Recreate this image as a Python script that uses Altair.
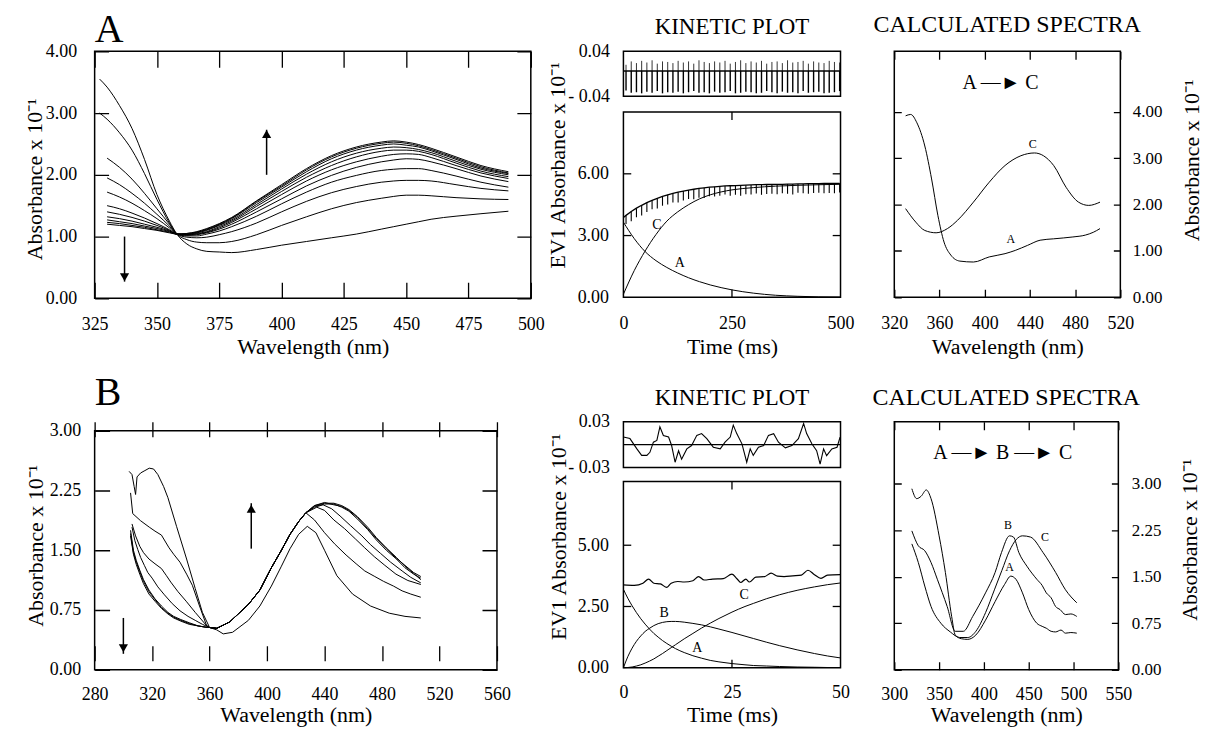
import altair as alt
import pandas as pd

FONT = "Liberation Serif"
ABS = "Absorbance x 10\u207b\u00b9"
EV1 = "EV1 Absorbance x 10\u207b\u00b9"
LABEL_EXPR = "datum.value < 0 ? '- ' + format(-datum.value, '.2f') : format(datum.value, '.2f')"

# ---------------- Panel A : observed spectra ----------------
A_obs_wl = [327, 330, 335, 340, 345, 350, 355, 358, 362, 366, 370, 375, 380,
            390, 400, 410, 420, 430, 440, 445, 450, 455, 460, 470, 480, 491]
A_obs_1 = [3.55, 3.42, 3.12, 2.75, 2.25, 1.68, 1.25, 1.04, 0.88, 0.80, 0.76, 0.75, 0.74,
           0.79, 0.86, 0.92, 0.98, 1.04, 1.12, 1.16, 1.20, 1.24, 1.28, 1.33, 1.37, 1.41]
A_obs_2 = [3.00, 2.90, 2.68, 2.40, 2.02, 1.60, 1.22, 1.04, 0.95, 0.91, 0.90, 0.90, 0.92,
           1.03, 1.18, 1.32, 1.45, 1.55, 1.62, 1.65, 1.67, 1.67, 1.66, 1.63, 1.61, 1.60]
A_obs_3 = [None, 2.27, 2.12, 1.93, 1.70, 1.45, 1.20, 1.04, 0.99, 0.98, 0.99, 1.03, 1.08,
           1.22, 1.40, 1.57, 1.71, 1.81, 1.88, 1.90, 1.91, 1.91, 1.90, 1.84, 1.78, 1.74]
A_obs_4 = [None, 1.95, 1.84, 1.70, 1.54, 1.36, 1.17, 1.04, 1.01, 1.01, 1.04, 1.09, 1.16,
           1.33, 1.53, 1.72, 1.88, 1.99, 2.07, 2.09, 2.10, 2.10, 2.07, 1.98, 1.88, 1.80]
A_obs_5 = [None, 1.72, 1.64, 1.54, 1.42, 1.29, 1.14, 1.04, 1.02, 1.03, 1.06, 1.12, 1.20,
           1.40, 1.61, 1.82, 1.99, 2.12, 2.21, 2.24, 2.26, 2.25, 2.21, 2.10, 1.98, 1.89]
A_obs_6 = [None, 1.50, 1.45, 1.38, 1.30, 1.21, 1.11, 1.04, 1.03, 1.04, 1.07, 1.14, 1.23,
           1.45, 1.68, 1.90, 2.08, 2.21, 2.30, 2.33, 2.34, 2.33, 2.28, 2.15, 2.03, 1.94]
A_obs_7 = [None, 1.40, 1.36, 1.31, 1.25, 1.18, 1.10, 1.04, 1.03, 1.05, 1.08, 1.16, 1.25,
           1.49, 1.73, 1.96, 2.15, 2.29, 2.38, 2.40, 2.40, 2.38, 2.33, 2.19, 2.06, 1.97]
A_obs_8 = [None, 1.32, 1.29, 1.25, 1.20, 1.15, 1.09, 1.04, 1.04, 1.06, 1.10, 1.18, 1.27,
           1.52, 1.77, 2.01, 2.21, 2.35, 2.43, 2.45, 2.44, 2.41, 2.36, 2.22, 2.09, 2.00]
A_obs_9 = [None, 1.27, 1.24, 1.21, 1.17, 1.13, 1.08, 1.04, 1.04, 1.07, 1.11, 1.19, 1.29,
           1.55, 1.80, 2.05, 2.26, 2.40, 2.48, 2.50, 2.48, 2.45, 2.39, 2.25, 2.11, 2.02]
A_obs_10 = [None, 1.23, 1.21, 1.18, 1.15, 1.11, 1.07, 1.04, 1.05, 1.07, 1.12, 1.20, 1.30,
            1.57, 1.82, 2.08, 2.29, 2.43, 2.51, 2.53, 2.51, 2.47, 2.41, 2.27, 2.13, 2.03]
A_obs_11 = [None, 1.20, 1.18, 1.16, 1.13, 1.10, 1.06, 1.04, 1.05, 1.08, 1.13, 1.21, 1.31,
            1.58, 1.84, 2.10, 2.31, 2.45, 2.53, 2.55, 2.53, 2.49, 2.43, 2.29, 2.15, 2.05]
A_arrow_x = [394, 337]
A_arrow_from = [2.00, 1.00]
A_arrow_to = [2.73, 0.27]
A_arrow_head = [2.66, 0.34]
ARROW_SHAPES = ["triangle-up", "triangle-down"]

# ---------------- Panel A : kinetic plot ----------------
A_kin_t = [0, 6, 18, 30, 42, 54, 66, 78, 90, 102, 114, 126, 138, 150, 162, 174, 186, 198,
           210, 222, 234, 246, 258, 270, 282, 294, 306, 318, 330, 342, 354, 366, 378, 390,
           402, 414, 426, 438, 450, 462, 474, 486, 498]
A_kin_obs = [3.88, 3.98, 4.17, 4.33, 4.47, 4.60, 4.71, 4.81, 4.90, 4.98, 5.05, 5.11, 5.16,
             5.21, 5.25, 5.29, 5.32, 5.35, 5.37, 5.39, 5.41, 5.42, 5.43, 5.44, 5.45, 5.46,
             5.47, 5.47, 5.48, 5.48, 5.49, 5.49, 5.50, 5.50, 5.51, 5.51, 5.52, 5.52, 5.52,
             5.53, 5.53, 5.53, 5.54]
A_kin_tooth = [0.42, 0.48, 0.44, 0.50, 0.46, 0.43, 0.49, 0.45, 0.47, 0.44, 0.50, 0.46, 0.43,
               0.48, 0.45, 0.49, 0.44, 0.47, 0.46, 0.42, 0.48, 0.45, 0.50, 0.44, 0.47, 0.43,
               0.49, 0.46, 0.45, 0.48, 0.44, 0.47, 0.50, 0.43, 0.46, 0.49, 0.45, 0.44, 0.48,
               0.46, 0.47, 0.45]
A_res_base = 0.005
A_res_low = [-0.030, -0.034, -0.033, -0.035, -0.032, -0.034, -0.031, -0.035, -0.033, -0.034,
             -0.032, -0.035, -0.033, -0.031, -0.034, -0.033, -0.035, -0.032, -0.034, -0.033,
             -0.031, -0.035, -0.034, -0.032, -0.033, -0.035, -0.034, -0.031, -0.033, -0.035,
             -0.032, -0.034, -0.033, -0.035, -0.031, -0.034, -0.033, -0.032, -0.035, -0.034,
             -0.033, -0.031]
A_res_high = [0.016, 0.022, 0.019, 0.023, 0.020, 0.024, 0.018, 0.022, 0.021, 0.019,
              0.023, 0.020, 0.022, 0.018, 0.024, 0.021, 0.019, 0.022, 0.020, 0.023,
              0.018, 0.021, 0.024, 0.019, 0.022, 0.020, 0.023, 0.018, 0.021, 0.022,
              0.019, 0.024, 0.020, 0.021, 0.023, 0.018, 0.022, 0.020, 0.019, 0.023,
              0.021, 0.020]
A_fit_t = [0, 25, 50, 75, 100, 125, 150, 175, 200, 225, 250, 300, 350, 400, 450, 500]
A_fit_A = [3.65, 2.85, 2.22, 1.78, 1.45, 1.18, 0.95, 0.76, 0.60, 0.47, 0.36, 0.20, 0.10, 0.05, 0.02, 0.01]
A_fit_C = [0.15, 1.30, 2.25, 3.05, 3.70, 4.15, 4.50, 4.78, 4.98, 5.12, 5.22, 5.33, 5.40, 5.44, 5.47, 5.49]
A_kin_lab_t = [77, 130]
A_kin_lab_v = [3.5, 1.67]
A_kin_lab = ["C", "A"]
A_kin_xticks = [250]
A_kin_yticks = [3, 6]

# ---------------- Panel A : calculated spectra ----------------
CA_A_wl = [330, 334.5, 340, 347, 353, 358.6, 364, 370, 378, 390, 404, 418, 427, 438, 449, 461, 478, 489, 496, 502]
CA_A_v = [3.91, 3.94, 3.76, 3.26, 2.55, 1.76, 1.19, 0.91, 0.78, 0.76, 0.87, 0.94, 1.01, 1.12, 1.23, 1.26, 1.30, 1.34, 1.40, 1.48]
CA_C_wl = [330, 339, 347, 357, 367, 376, 390, 404, 418, 432, 444, 452, 461, 472, 483, 492, 502]
CA_C_v = [1.91, 1.62, 1.44, 1.39, 1.48, 1.66, 2.05, 2.48, 2.84, 3.05, 3.11, 3.05, 2.84, 2.37, 2.05, 1.98, 2.05]
CA_lab_wl = [442.5, 423]
CA_lab_v = [3.30, 1.25]
CA_lab = ["C", "A"]
CA_scheme = "A \u2014\u25ba C"

# ---------------- Panel B : observed spectra ----------------
B1_wl = [304, 306, 307.5, 308.5, 309.5, 312, 315, 318, 321, 324, 328, 331, 337, 344, 350, 355,
         360, 365, 369.5, 376, 387, 395, 403, 410, 416, 422, 428, 434, 440, 448.6, 459.5, 472,
         485, 496, 507]
B1_v = [2.49, 2.45, 2.30, 2.20, 2.42, 2.47, 2.50, 2.53, 2.52, 2.45, 2.30, 2.16, 1.80, 1.39, 1.02,
        0.72, 0.53, 0.50, 0.45, 0.47, 0.62, 0.80, 1.05, 1.30, 1.52, 1.70, 1.80, 1.72, 1.50, 1.18,
        0.95, 0.80, 0.71, 0.67, 0.65]
B_rise_wl = [360, 365, 374, 387, 395, 403, 410, 416, 422, 427]
B_rise_v = [0.53, 0.52, 0.60, 0.82, 1.00, 1.28, 1.50, 1.70, 1.86, 1.97]
B2_left_wl = [305, 306.5, 312, 318, 322, 326.5, 331.8, 335, 339.4, 344, 348, 353, 358]
B2_left_v = [2.22, 1.96, 1.87, 1.79, 1.74, 1.69, 1.53, 1.45, 1.35, 1.20, 1.06, 0.80, 0.55]
B2_right_wl = [433, 440, 447, 455, 462, 468, 475, 481, 488, 494, 500, 507]
B2_right_v = [1.88, 1.72, 1.58, 1.44, 1.33, 1.24, 1.17, 1.11, 1.05, 0.99, 0.95, 0.91]
B3_left_wl = [306, 308.5, 311.4, 314, 317.8, 322, 326.5, 330, 333, 338, 343.7, 350, 357.6]
B3_left_v = [1.83, 1.68, 1.55, 1.47, 1.39, 1.33, 1.27, 1.18, 1.10, 0.98, 0.86, 0.72, 0.56]
B3_right_wl = [434.6, 440, 446.5, 454, 461.6, 468, 474.6, 482, 489.7, 498, 507]
B3_right_v = [2.04, 2.00, 1.88, 1.77, 1.64, 1.53, 1.42, 1.31, 1.20, 1.12, 1.07]
B4_left_wl = [306, 308, 310, 312, 314.6, 317, 320, 324, 328.6, 334, 339.4, 345, 350, 355, 358.7]
B4_left_v = [1.79, 1.62, 1.51, 1.41, 1.31, 1.22, 1.15, 1.04, 0.94, 0.83, 0.74, 0.67, 0.62, 0.57, 0.54]
B4_right_wl = [433, 439, 445, 450.8, 458, 466, 472, 479, 486, 494, 500, 507]
B4_right_v = [2.04, 2.07, 2.02, 1.93, 1.81, 1.68, 1.57, 1.46, 1.35, 1.24, 1.16, 1.09]
B567_left_wl = [305, 307, 309, 311.4, 314, 317.8, 322, 326.5, 331, 335, 340, 345.8, 352, 358.7]
B567_right_wl = [433, 440, 446.5, 452, 457, 463, 470, 476, 483, 490, 496, 502, 507]
B5_left_v = [1.71, 1.47, 1.35, 1.23, 1.11, 0.98, 0.88, 0.78, 0.71, 0.66, 0.62, 0.58, 0.55, 0.53]
B5_right_v = [2.05, 2.08, 2.08, 2.04, 1.99, 1.89, 1.76, 1.63, 1.50, 1.39, 1.28, 1.20, 1.15]
B6_left_v = [1.75, 1.50, 1.37, 1.25, 1.13, 1.00, 0.89, 0.80, 0.72, 0.67, 0.63, 0.59, 0.55, 0.53]
B6_right_v = [2.06, 2.09, 2.09, 2.06, 2.01, 1.92, 1.79, 1.66, 1.53, 1.41, 1.30, 1.21, 1.13]
B7_left_v = [1.68, 1.45, 1.32, 1.20, 1.08, 0.95, 0.86, 0.77, 0.70, 0.65, 0.61, 0.57, 0.55, 0.53]
B7_right_v = [2.06, 2.10, 2.07, 2.05, 2.00, 1.91, 1.77, 1.65, 1.52, 1.40, 1.31, 1.22, 1.17]
B_arrow_x = [389, 300]
B_arrow_from = [1.52, 0.65]
B_arrow_to = [2.09, 0.20]
B_arrow_head = [2.02, 0.27]

# ---------------- Panel B : kinetic plot ----------------
KB_obs_t = [0, 2.5, 4.5, 5.8, 7, 8.5, 10, 11, 12.5, 14, 16, 17.3, 18.6, 20.5, 23, 25, 26.2, 27,
            28.2, 29, 30.5, 32.5, 34, 35.5, 37, 39, 41, 42.5, 44, 45.5, 47, 50]
KB_obs_v = [3.38, 3.36, 3.45, 3.62, 3.45, 3.42, 3.28, 3.45, 3.52, 3.50, 3.55, 3.72, 3.58, 3.62,
            3.64, 3.82, 3.62, 3.48, 3.62, 3.50, 3.70, 3.72, 3.86, 3.74, 3.72, 3.75, 3.78, 3.98,
            3.80, 3.65, 3.78, 3.80]
KB_res_t = [0, 1.5, 3.1, 4.2, 5.4, 6.1, 6.9, 7.7, 8.4, 9.2, 10.4, 11.1, 11.9, 12.7, 13.4, 14.6,
            15.7, 16.9, 18.0, 19.2, 20.7, 22.3, 23.4, 24.6, 25.3, 26.1, 27.3, 28.4, 29.2, 29.9,
            31.1, 32.3, 33.4, 34.6, 35.7, 37.3, 38.8, 40.3, 41.5, 42.2, 43.4, 44.5, 45.3, 46.1,
            46.8, 48.0, 49.2, 49.9]
KB_res_v = [0.010, 0.008, -0.0055, -0.014, -0.014, -0.010, 0.0033, 0.0056, 0.0233, 0.012,
            0.010, -0.0011, -0.023, -0.008, -0.019, -0.0055, -0.0011, 0.0122, 0.0145, 0.0078,
            -0.0033, -0.0055, 0.0033, 0.010, 0.0256, 0.0145, 0.0011, -0.023, -0.0055, -0.014,
            -0.0033, -0.0011, 0.0122, 0.0145, 0.0033, -0.0042, -0.0011, 0.0078, 0.0278, 0.0145,
            0.0011, -0.0078, -0.0255, -0.0055, -0.0144, -0.0055, -0.0033, 0.010]
KB_fit_t = [0, 1, 2, 3, 4, 5, 6, 7, 8, 9, 10, 11, 12, 14, 16, 18, 20, 22, 25, 28, 30, 33, 36, 40, 44, 47, 50]
KB_A = [3.20, 2.84, 2.53, 2.25, 2.00, 1.78, 1.58, 1.40, 1.25, 1.11, 0.99, 0.88, 0.78, 0.62, 0.49,
        0.39, 0.30, 0.24, 0.17, 0.12, 0.09, 0.07, 0.05, 0.03, 0.02, 0.01, 0.01]
KB_B = [0.00, 0.45, 0.80, 1.08, 1.30, 1.48, 1.61, 1.72, 1.80, 1.85, 1.88, 1.89, 1.89, 1.86, 1.81,
        1.75, 1.67, 1.58, 1.44, 1.29, 1.19, 1.04, 0.90, 0.73, 0.58, 0.48, 0.40]
KB_C = [0.00, 0.01, 0.03, 0.07, 0.12, 0.19, 0.27, 0.36, 0.47, 0.58, 0.70, 0.82, 0.94, 1.18, 1.40,
        1.62, 1.82, 2.01, 2.27, 2.50, 2.63, 2.82, 2.98, 3.16, 3.30, 3.39, 3.46]
KB_lab_t = [9.4, 27.8, 17]
KB_lab_v = [2.23, 2.97, 0.81]
KB_lab = ["B", "C", "A"]
KB_xticks = [25]
KB_yticks = [2.5, 5.0]

# ---------------- Panel B : calculated spectra ----------------
CB_A_wl = [319.6, 325, 330, 335.7, 341, 350, 357, 364, 368, 375, 382, 391, 401.8, 412.5, 423, 430,
           435.7, 443, 450, 459, 465, 469.6, 475, 480, 486, 491, 497, 503.6]
CB_A_v = [2.92, 2.76, 2.80, 2.90, 2.76, 2.16, 1.57, 0.86, 0.56, 0.50, 0.49, 0.56, 0.80, 1.10, 1.375,
          1.51, 1.46, 1.24, 0.97, 0.75, 0.70, 0.67, 0.62, 0.61, 0.64, 0.59, 0.60, 0.59]
CB_B_wl = [319.6, 326.8, 334, 341, 348, 359, 368, 377, 387.5, 401.8, 412.5, 419.6, 428.6, 433, 439,
           448, 459, 465, 469.6, 475, 480, 485, 491, 497, 503.6]
CB_B_v = [2.24, 2.00, 1.92, 1.73, 1.46, 1.02, 0.62, 0.62, 0.86, 1.24, 1.57, 1.89, 2.16, 2.14, 1.89,
          1.67, 1.46, 1.36, 1.24, 1.16, 1.02, 0.97, 0.89, 0.90, 0.86]
CB_C_wl = [319.6, 326.8, 334, 341, 352, 362.5, 373, 382, 391, 401.8, 412, 420, 428.6, 436, 443, 452,
           466, 480, 491, 503.6]
CB_C_v = [2.03, 1.73, 1.35, 1.02, 0.75, 0.61, 0.52, 0.52, 0.62, 0.92, 1.30, 1.60, 1.92, 2.10, 2.16,
          2.14, 1.89, 1.57, 1.29, 1.08]
CB_lab_wl = [426.8, 468, 428.6]
CB_lab_v = [2.33, 2.14, 1.66]
CB_lab = ["B", "C", "A"]
CB_scheme = "A \u2014\u25ba B \u2014\u25ba C"


# ---------------- helpers ----------------
def series_df(pairs):
    rows = []
    for name, xs, ys in pairs:
        for xv, yv in zip(xs, ys):
            if yv is not None:
                rows.append({"x": xv, "y": yv, "s": name})
    return pd.DataFrame(rows)


def scale(dom, rng=None):
    if rng is None:
        return alt.Scale(domain=dom, nice=False, zero=False)
    return alt.Scale(domain=dom, range=rng, nice=False, zero=False)


def xenc(dom, vals, gridlen, tick, title, labpad=16, title_y=55, rng=None, grid=True):
    kw = dict(values=vals, format="d", title=title, labelPadding=labpad, titleY=title_y,
              titleBaseline="alphabetic", grid=grid)
    if grid:
        kw.update(gridDash=[tick, gridlen - 2 * tick, tick, 4000])
    return alt.X("x:Q", scale=scale(dom, rng), axis=alt.Axis(**kw))


def yenc(dom, vals, gridlen, tick, title, title_x, title_y, orient="left", labpad=16, fs=18,
         rng=None, grid=True, field="y"):
    kw = dict(values=vals, format=".2f", orient=orient, title=title, labelPadding=labpad,
              labelFontSize=fs, titleAngle=270, titleBaseline="alphabetic", titleAlign="center",
              titleX=title_x, titleY=title_y, grid=grid)
    if grid:
        kw.update(gridDash=[tick, gridlen - 2 * tick, tick, 4000])
    return alt.Y(field + ":Q", scale=scale(dom, rng), axis=alt.Axis(**kw))


def yres(dom, vals, rng):
    return alt.Y("ry:Q", scale=scale(dom, rng),
                 axis=alt.Axis(values=vals, title=None, labelPadding=14, orient="left",
                               grid=False, labelExpr=LABEL_EXPR))


def line_layer(df, x, y, sw=1.0, interp="linear"):
    return alt.Chart(df).mark_line(color="black", strokeWidth=sw, interpolate=interp).encode(
        x=x, y=y, detail="s:N")


def text_layer(xs, ys, texts, x, y, size, yfield="y"):
    df = pd.DataFrame({"x": xs, yfield: ys, "t": texts})
    return alt.Chart(df).mark_text(font=FONT, fontSize=size, color="black").encode(
        x=x, y=y, text="t:N")


def frame_layer(xdom, ydom, x, y, yfield="y"):
    df = pd.DataFrame({"x": [xdom[0]], "x2": [xdom[1]], yfield: [ydom[0]], "y2": [ydom[1]]})
    return alt.Chart(df).mark_rect(fillOpacity=0, stroke="black", strokeWidth=1.5).encode(
        x=x, x2="x2:Q", y=y, y2="y2:Q")


def arrow_layers(xs, y0s, y1s, heads, x, y):
    df = pd.DataFrame({"x": xs, "y": y0s, "y2": y1s})
    rule = alt.Chart(df).mark_rule(color="black", strokeWidth=1.5).encode(x=x, y=y, y2="y2:Q")
    hdf = pd.DataFrame({"x": xs, "y": heads, "shape": ARROW_SHAPES})
    head = alt.Chart(hdf).mark_point(filled=True, color="black", opacity=1, size=85).encode(
        x=x, y=y, shape=alt.Shape("shape:N", scale=None))
    return [rule, head]


def tick_layers(xticks, yticks, xdom, ydom, xlen, ylen, x, y):
    # inward ticks on all four sides of a box, drawn in data units
    rows = []
    for v in xticks:
        rows.append({"x": v, "x2": v, "y": ydom[0], "y2": ydom[0] + ylen})
        rows.append({"x": v, "x2": v, "y": ydom[1], "y2": ydom[1] - ylen})
    for v in yticks:
        rows.append({"x": xdom[0], "x2": xdom[0] + xlen, "y": v, "y2": v})
        rows.append({"x": xdom[1], "x2": xdom[1] - xlen, "y": v, "y2": v})
    df = pd.DataFrame(rows)
    return alt.Chart(df).mark_rule(color="black", strokeWidth=1.3).encode(
        x=x, x2="x2:Q", y=y, y2="y2:Q")


def title(text, offset, size=23, anchor="middle"):
    return alt.TitleParams(text=text, fontSize=size, anchor=anchor, offset=offset, frame="group",
                           baseline="alphabetic", font=FONT, fontWeight="normal", color="black")


NOFRAME = alt.ViewBackground(stroke="transparent")

# ================= ROW A =================
AL_CELL_W, AL_W, AL_H = 477, 438, 248
xA = xenc([325, 500], [325, 350, 375, 400, 425, 450, 475, 500], AL_H, 16, "Wavelength (nm)",
          labpad=17, title_y=55, rng=[0, AL_W])
yA = yenc([0, 4], [0, 1, 2, 3, 4], AL_W, 14, ABS, -53, 128, labpad=18)
A_obs_df = series_df([("c%d" % (i + 1), A_obs_wl, v) for i, v in enumerate(
    [A_obs_1, A_obs_2, A_obs_3, A_obs_4, A_obs_5, A_obs_6, A_obs_7, A_obs_8, A_obs_9, A_obs_10, A_obs_11])])
A_left = alt.layer(
    frame_layer([325, 500], [0, 4], xA, yA),
    line_layer(A_obs_df, xA, yA, 1.0, "monotone"),
    *arrow_layers(A_arrow_x, A_arrow_from, A_arrow_to, A_arrow_head, xA, yA)
).properties(width=AL_CELL_W, height=AL_H, view=NOFRAME,
             title=title("A", -40, size=40, anchor="start"))

# kinetic A (residual box on top, kinetic box below, one view)
K_W, K_H = 218, 247
xKA = xenc([0, 500], [0, 250, 500], 0, 0, "Time (ms)", labpad=17, title_y=56, grid=False)
yKA = yenc([0, 9], [0, 3, 6], 0, 0, EV1, -59, 114, labpad=15, rng=[K_H, 61], grid=False)
yKAr = yres([-0.04, 0.04], [-0.04, 0.04], [45, 0])
KA_obs_df = series_df([("obs", A_kin_t, A_kin_obs)])
KA_teeth_df = pd.DataFrame({"x": A_kin_t[1:], "y": A_kin_obs[1:],
                            "y2": [v - d for v, d in zip(A_kin_obs[1:], A_kin_tooth)]})
KA_fit_df = series_df([("A", A_fit_t, A_fit_A), ("C", A_fit_t, A_fit_C)])
A_main = alt.layer(
    frame_layer([0, 500], [0, 9], xKA, yKA),
    tick_layers(A_kin_xticks, A_kin_yticks, [0, 500], [0, 9], 18, 0.38, xKA, yKA),
    line_layer(KA_obs_df, xKA, yKA, 1.3),
    alt.Chart(KA_teeth_df).mark_rule(color="black", strokeWidth=1.1).encode(x=xKA, y=yKA, y2="y2:Q"),
    line_layer(KA_fit_df, xKA, yKA, 1.0, "monotone"),
    text_layer(A_kin_lab_t, A_kin_lab_v, A_kin_lab, xKA, yKA, 14),
)
res_base_df = pd.DataFrame({"ry": [A_res_base]})
res_down_df = pd.DataFrame({"x": A_kin_t[1:], "ry": [A_res_base] * len(A_res_low), "y2": A_res_low})
res_up_df = pd.DataFrame({"x": A_kin_t[1:], "ry": [A_res_base] * len(A_res_high), "y2": A_res_high})
A_res = alt.layer(
    frame_layer([0, 500], [-0.04, 0.04], xKA, yKAr, yfield="ry"),
    alt.Chart(res_base_df).mark_rule(color="black", strokeWidth=1.4).encode(y=yKAr),
    alt.Chart(res_down_df).mark_rule(color="black", strokeWidth=1.4).encode(x=xKA, y=yKAr, y2="y2:Q"),
    alt.Chart(res_up_df).mark_rule(color="black", strokeWidth=0.8).encode(x=xKA, y=yKAr, y2="y2:Q"),
)
A_kin = alt.layer(A_main, A_res).resolve_scale(y="independent").resolve_axis(y="independent").properties(
    width=K_W, height=K_H, view=NOFRAME, title=title("KINETIC PLOT", -15))

# calc A
C_W, C_H = 227, 247
xCA = xenc([320, 520], [320, 360, 400, 440, 480, 520], C_H, 8, "Wavelength (nm)", labpad=17, title_y=56)
yCA = yenc([0, 5.3], [0, 1, 2, 3, 4], C_W, 7, ABS, 78, 109, orient="right", labpad=12, fs=17)
CA_df = series_df([("A", CA_A_wl, CA_A_v), ("C", CA_C_wl, CA_C_v)])
A_calc = alt.layer(
    line_layer(CA_df, xCA, yCA, 1.0, "monotone"),
    text_layer(CA_lab_wl, CA_lab_v, CA_lab, xCA, yCA, 12),
    text_layer([414], [4.62], [CA_scheme], xCA, yCA, 20),
).properties(width=C_W, height=C_H, title=title("CALCULATED SPECTRA", -5, size=24))

# ================= ROW B =================
BL_W, BL_H, BL_TOP = 404, 249, 9
xB = xenc([280, 560], [280, 320, 360, 400, 440, 480, 520, 560], BL_H - BL_TOP, 15, "Wavelength (nm)",
          labpad=16, title_y=52, rng=[0, BL_W])
yB = yenc([0, 3], [0, 0.75, 1.5, 2.25, 3], BL_W, 15, ABS, -52, 124, labpad=14, rng=[BL_H, BL_TOP])
B_obs_df = series_df([
    ("b1", B1_wl, B1_v),
    ("b2", B2_left_wl + B_rise_wl + B2_right_wl, B2_left_v + B_rise_v + B2_right_v),
    ("b3", B3_left_wl + B_rise_wl + B3_right_wl, B3_left_v + B_rise_v + B3_right_v),
    ("b4", B4_left_wl + B_rise_wl + B4_right_wl, B4_left_v + B_rise_v + B4_right_v),
    ("b5", B567_left_wl + B_rise_wl + B567_right_wl, B5_left_v + B_rise_v + B5_right_v),
    ("b6", B567_left_wl + B_rise_wl + B567_right_wl, B6_left_v + B_rise_v + B6_right_v),
    ("b7", B567_left_wl + B_rise_wl + B567_right_wl, B7_left_v + B_rise_v + B7_right_v),
])
B_left = alt.layer(
    frame_layer([280, 560], [0, 3], xB, yB),
    line_layer(B_obs_df, xB, yB, 1.0),
    *arrow_layers(B_arrow_x, B_arrow_from, B_arrow_to, B_arrow_head, xB, yB)
).properties(width=AL_CELL_W, height=BL_H, view=NOFRAME,
             title=title("B", -23, size=40, anchor="start"))

# kinetic B
xKB = xenc([0, 50], [0, 25, 50], 0, 0, "Time (ms)", labpad=16, title_y=54, grid=False)
yKB = yenc([0, 7.6], [0, 2.5, 5.0], 0, 0, EV1, -58, 115, labpad=15, rng=[K_H, 60], grid=False)
yKBr = yres([-0.03, 0.03], [-0.03, 0.03], [46, 0])
KB_obs_df = series_df([("obs", KB_obs_t, KB_obs_v)])
KB_fit_df = series_df([("A", KB_fit_t, KB_A), ("B", KB_fit_t, KB_B), ("C", KB_fit_t, KB_C)])
B_main = alt.layer(
    frame_layer([0, 50], [0, 7.6], xKB, yKB),
    tick_layers(KB_xticks, KB_yticks, [0, 50], [0, 7.6], 1.8, 0.33, xKB, yKB),
    line_layer(KB_obs_df, xKB, yKB, 1.2, "monotone"),
    line_layer(KB_fit_df, xKB, yKB, 1.0, "monotone"),
    text_layer(KB_lab_t, KB_lab_v, KB_lab, xKB, yKB, 14),
)
KB_res_df = pd.DataFrame({"x": KB_res_t, "ry": KB_res_v})
B_res = alt.layer(
    frame_layer([0, 50], [-0.03, 0.03], xKB, yKBr, yfield="ry"),
    alt.Chart(pd.DataFrame({"ry": [0.0]})).mark_rule(color="black", strokeWidth=1.3).encode(y=yKBr),
    alt.Chart(KB_res_df).mark_line(color="black", strokeWidth=1.1).encode(x=xKB, y=yKBr),
)
B_kin = alt.layer(B_main, B_res).resolve_scale(y="independent").resolve_axis(y="independent").properties(
    width=K_W, height=K_H, view=NOFRAME, title=title("KINETIC PLOT", -15))

# calc B
CB_W, CB_H = 225, 249
xCB = xenc([300, 550], [300, 350, 400, 450, 500, 550], CB_H, 8, "Wavelength (nm)", labpad=16, title_y=52)
yCB = yenc([0, 4.0], [0, 0.75, 1.5, 2.25, 3.0], CB_W, 7, ABS, 78, 118, orient="right", labpad=13, fs=17)
CB_df = series_df([("A", CB_A_wl, CB_A_v), ("B", CB_B_wl, CB_B_v), ("C", CB_C_wl, CB_C_v)])
B_calc = alt.layer(
    line_layer(CB_df, xCB, yCB, 1.0, "monotone"),
    text_layer(CB_lab_wl, CB_lab_v, CB_lab, xCB, yCB, 12),
    text_layer([421], [3.5], [CB_scheme], xCB, yCB, 20),
).properties(width=CB_W, height=CB_H, title=title("CALCULATED SPECTRA", -7, size=24))

chart = alt.concat(
    A_left, A_kin, A_calc, B_left, B_kin, B_calc,
    columns=3, spacing={"row": 124, "column": 54}, bounds="flush", align="each"
).properties(
    padding={"left": 15, "top": 0, "right": 0, "bottom": 0}
).configure_view(
    stroke="black", strokeWidth=1.5
).configure_axis(
    labelFont=FONT, titleFont=FONT, labelFontSize=18, titleFontSize=22,
    titleFontWeight="normal", labelColor="black", titleColor="black",
    domain=False, ticks=False, gridColor="black", gridOpacity=1, gridWidth=1.3,
    labelFlush=False, labelOverlap=False
).configure_title(font=FONT, fontWeight="normal", color="black")

chart.save("out.html", embed_options={"renderer": "svg", "actions": False})
